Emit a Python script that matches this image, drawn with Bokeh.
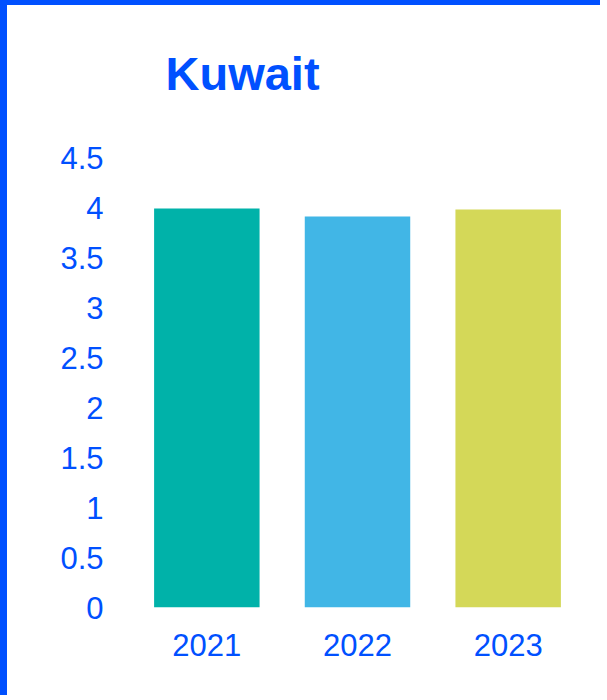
from bokeh.plotting import figure
from bokeh.models import ColumnDataSource, Range1d, FixedTicker, Title
from bokeh.embed import file_html
from bokeh.resources import INLINE

years = ["2021", "2022", "2023"]
values = [3.99, 3.91, 3.98]
colors = ["#00B2A9", "#41B6E6", "#D4D858"]
y_ticks = [0, 0.5, 1, 1.5, 2, 2.5, 3, 3.5, 4, 4.5]
title_text = "Kuwait"

BLUE = "#0050FF"

src = ColumnDataSource(dict(x=years, top=values, color=colors))

p = figure(x_range=years, y_range=Range1d(0, 4.5), width=600, height=695,
           output_backend="svg", toolbar_location=None,
           min_border_left=124, min_border_right=24,
           min_border_top=152, min_border_bottom=93)
p.styles = {"border-left": "7px solid " + BLUE, "border-top": "5px solid " + BLUE}

p.vbar(x="x", top="top", width=0.7, color="color", source=src, line_width=0)

# spacer between the frame and the title (first item sits next to the frame)
p.add_layout(Title(text=" ", text_font_size="1px", standoff=48), "above")
p.add_layout(Title(text=title_text, text_font="Liberation Sans", text_font_size="47px",
                   text_font_style="bold", text_color=BLUE, align="left",
                   vertical_align="top", offset=34, standoff=10), "above")

p.outline_line_color = None
p.xgrid.grid_line_color = None
p.ygrid.grid_line_color = None
p.background_fill_color = "white"
p.border_fill_color = "white"

for ax in (p.xaxis[0], p.yaxis[0]):
    ax.axis_line_color = None
    ax.major_tick_line_color = None
    ax.minor_tick_line_color = None
    ax.major_label_text_color = BLUE
    ax.major_label_text_font = "Liberation Sans"
    ax.major_label_text_font_size = "31px"

p.yaxis[0].ticker = FixedTicker(ticks=y_ticks)
p.yaxis[0].major_label_standoff = 22
p.xaxis[0].major_label_standoff = 20
p.x_range.range_padding = 0

open("out.html", "w").write(file_html(p, INLINE))
